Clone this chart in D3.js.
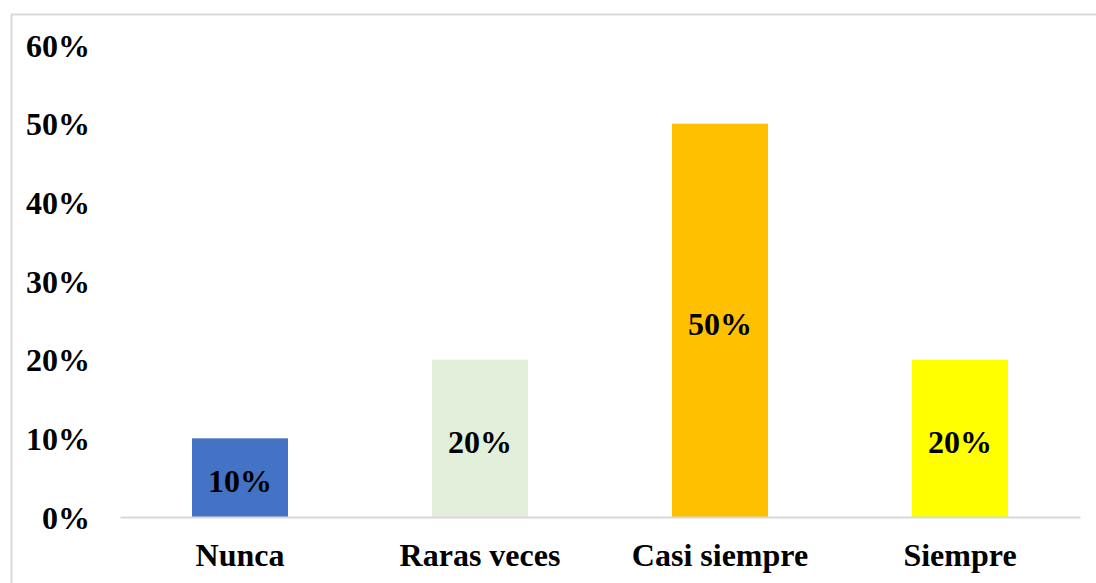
<!DOCTYPE html>
<html>
<head>
<meta charset="utf-8">
<script src="https://cdn.jsdelivr.net/npm/d3@7"></script>
<style>
	body { margin:0; background:#fff; }
	text { font-family:"Liberation Serif","Times New Roman",serif; font-weight:bold; fill:#000; }
</style>
</head>
<body>
<svg id="chart" width="1096" height="583"></svg>
<script>

// data
var categories = ["Nunca", "Raras veces", "Casi siempre", "Siempre"];
var values = [0.10, 0.20, 0.50, 0.20];
var barColors = ["#4472C4", "#E2EFDA", "#FFC000", "#FFFF00"];
var yTicks = [0, 0.1, 0.2, 0.3, 0.4, 0.5, 0.6];

var svg = d3.select("#chart");

// chart frame (only top and left edges show in the picture)
svg.append("rect")
	.attr("x", 11.5)
	.attr("y", 14.5)
	.attr("width", 1200)
	.attr("height", 700)
	.attr("fill", "none")
	.attr("stroke", "#d9d9d9")
	.attr("stroke-width", 2);

var x = d3.scaleBand()
	.domain(categories)
	.range([120, 1080])
	.paddingInner(0.6)
	.paddingOuter(0.3);

var y = d3.scaleLinear()
	.domain([0, 0.6])
	.range([517, 45]);

var fmt = d3.format(".0%");

// y axis labels, no line
var yAxis = d3.axisLeft(y)
	.tickValues(yTicks)
	.tickFormat(fmt)
	.tickSize(0)
	.tickPadding(0);

var yG = svg.append("g")
	.attr("transform", "translate(90,0)")
	.call(yAxis);
yG.select(".domain").remove();
yG.selectAll("text")
	.attr("font-size", 32)
	.attr("dy", "0.35em")
	.style("font-family", null);

// bars
svg.selectAll(".bar")
	.data(values)
	.enter()
	.append("rect")
	.attr("class", "bar")
	.attr("x", function (d, i) { return x(categories[i]); })
	.attr("y", function (d) { return y(d); })
	.attr("width", x.bandwidth())
	.attr("height", function (d) { return y(0) - y(d); })
	.attr("fill", function (d, i) { return barColors[i]; });

// baseline
var xAxis = d3.axisBottom(x)
	.tickSize(0)
	.tickPadding(26);

var xG = svg.append("g")
	.attr("transform", "translate(0," + y(0) + ")")
	.call(xAxis);
xG.select(".domain")
	.attr("stroke", "#d9d9d9")
	.attr("stroke-width", 2);
xG.selectAll("text")
	.attr("font-size", 32)
	.style("font-family", null);

// value labels in the middle of each bar
svg.selectAll(".val")
	.data(values)
	.enter()
	.append("text")
	.attr("class", "val")
	.attr("x", function (d, i) { return x(categories[i]) + x.bandwidth() / 2; })
	.attr("y", function (d) { return (y(d) + y(0)) / 2 + 3; })
	.attr("dy", "0.35em")
	.attr("text-anchor", "middle")
	.attr("font-size", 32)
	.text(function (d) { return fmt(d); });

</script>
</body>
</html>
